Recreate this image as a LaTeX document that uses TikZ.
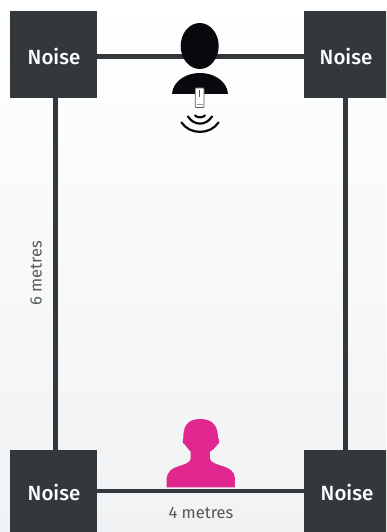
\documentclass[tikz,border=0pt]{standalone}
\usepackage{fontspec}
\setmainfont{Fira Sans}
\newfontfamily\noisefont{Fira Sans Medium}
\definecolor{boxc}{HTML}{33383C}
\definecolor{pinkc}{HTML}{E0268F}
\definecolor{blk}{HTML}{07090C}
\definecolor{lab}{HTML}{55595C}
\definecolor{bgb}{HTML}{F1F2F3}
\tikzset{
  noisebox/.style={fill=boxc,minimum width=87pt,minimum height=87pt,inner sep=0pt,anchor=north west},
  noisetext/.style={text=white,inner sep=0pt,font=\noisefont\fontsize{20.5}{24}\selectfont},
  wall/.style={draw=boxc,line width=5pt},
  dimlabel/.style={text=lab,font=\fontsize{16.5}{19}\selectfont,inner sep=0pt},
  wave/.style={draw=blk,line width=2.2pt,line cap=round}
}
\begin{document}
\begin{tikzpicture}[x=1pt,y=-1pt]
\useasboundingbox (0,0) rectangle (386,532);
\shade[top color=white,bottom color=bgb] (0,0) rectangle (386,532);
\clip (0,0) rectangle (386,532);
% boxes
\node[noisebox] (tl) at (10,11) {};
\node[noisebox] (tr) at (304,11) {};
\node[noisebox] (bl) at (10,450) {};
\node[noisebox] (br) at (304,450) {};
\node[noisetext] (tltext) at (54,56) {Noise};
\node[noisetext] (trtext) at (346,56) {Noise};
\node[noisetext] (bltext) at (54,492) {Noise};
\node[noisetext] (brtext) at (347,492) {Noise};
% walls
\draw[wall] ([yshift=-1.5pt]tl.east) -- ([yshift=-1.5pt]tr.west);
\draw[wall] ([xshift=2pt]tl.south) -- ([xshift=2pt]bl.north);
\draw[wall] ([xshift=-2.5pt]tr.south) -- ([xshift=-2.5pt]br.north);
\draw[wall,line width=4.5pt] ([yshift=2.5pt]bl.east) -- ([yshift=2.5pt]br.west);
% black person
\fill[blk] (199.7,46) ellipse [x radius=19,y radius=23];
\fill[blk] (172,94) .. controls (173,81) and (186,73) .. (200,73) .. controls (214,73) and (227,81) .. (228,94) -- cycle;
% phone
\draw[draw=gray!70!black,fill=white,line width=0.7pt,rounded corners=0.6pt] (195.2,88) rectangle (204,107.5);
\fill[gray!70!black] (198.9,90) rectangle (200.4,97);
\fill[gray!80] (197,104) rectangle (202.5,105);
% waves
\draw[wave] (195,115.5) .. controls (197.5,118) and (202.5,118) .. (205,115.5);
\draw[wave] (188,116.5) .. controls (194,126) and (206,126) .. (212,116.5);
\draw[wave] (181.5,122.5) .. controls (190,135) and (210,135) .. (218.5,122.5);
% pink person
\begin{scope}[shift={(150,410)},x=0.3333pt,y=-0.3333pt]
\fill[pinkc] (50,232) -- (50,205) .. controls (52,185) and (65,175) .. (85,169)
 .. controls (100,164) and (122,158) .. (122,146) -- (122,125)
 .. controls (110,112) and (108,108) .. (105,104) .. controls (97,102) and (96,90) .. (100,82)
 .. controls (100,55) and (108,27) .. (150,27) .. controls (195,27) and (203,55) .. (204,82)
 .. controls (209,90) and (208,102) .. (202,104) .. controls (198,110) and (192,118) .. (180,125)
 -- (180,146) .. controls (180,158) and (205,164) .. (220,169) .. controls (240,175) and (253,185) .. (255,205)
 -- (255,232) -- cycle;
\end{scope}
% labels
\node[dimlabel] (four) at (201,513) {4 metres};
\node[dimlabel,rotate=90] (six) at (36,273) {6 metres};
\end{tikzpicture}
\end{document}
